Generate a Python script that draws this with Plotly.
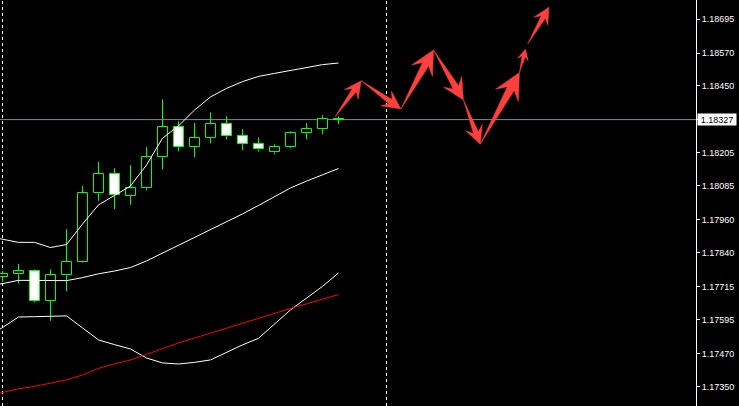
import plotly.graph_objects as go

# ---------------- data ----------------
bar_index = list(range(22))
open_ = [1.17752, 1.17761, 1.17772, 1.17665, 1.17757, 1.17805, 1.18057, 1.18127, 1.18048, 1.18076,
         1.18189, 1.18299, 1.18226, 1.18259, 1.18310, 1.18266, 1.18237, 1.18207, 1.18226, 1.18277,
         1.18292, 1.18328]
high = [1.17774, 1.17799, 1.17779, 1.17779, 1.17926, 1.18084, 1.18172, 1.18149, 1.18160, 1.18226,
        1.18401, 1.18321, 1.18314, 1.18354, 1.18339, 1.18292, 1.18262, 1.18237, 1.18284, 1.18314,
        1.18343, 1.18338]
low = [1.17734, 1.17728, 1.17660, 1.17591, 1.17699, 1.17803, 1.18030, 1.17999, 1.18016, 1.18068,
       1.18145, 1.18211, 1.18189, 1.18240, 1.18255, 1.18215, 1.18210, 1.18200, 1.18222, 1.18255,
       1.18273, 1.18310]
close = [1.17761, 1.17772, 1.17665, 1.17757, 1.17805, 1.18057, 1.18127, 1.18050, 1.18076, 1.18189,
         1.18299, 1.18226, 1.18259, 1.18310, 1.18266, 1.18237, 1.18218, 1.18226, 1.18277, 1.18292,
         1.18328, 1.18327]

ind_index = list(range(-1, 22))
bb_upper = [1.17901, 1.17890, 1.17878, 1.17878, 1.17859, 1.17870, 1.17945, 1.18015, 1.18048, 1.18084,
            1.18161, 1.18259, 1.18304, 1.18362, 1.18410, 1.18441, 1.18466, 1.18485, 1.18496, 1.18507,
            1.18518, 1.18528, 1.18534]
bb_middle = [1.17718, 1.17727, 1.17739, 1.17738, 1.17738, 1.17738, 1.17749, 1.17763, 1.17773, 1.17786,
             1.17810, 1.17839, 1.17865, 1.17894, 1.17925, 1.17952, 1.17982, 1.18013, 1.18046, 1.18077,
             1.18102, 1.18126, 1.18148]
bb_lower = [1.17528, 1.17568, 1.17605, 1.17606, 1.17608, 1.17609, 1.17565, 1.17521, 1.17504, 1.17488,
            1.17455, 1.17437, 1.17433, 1.17439, 1.17448, 1.17477, 1.17503, 1.17527, 1.17578, 1.17631,
            1.17674, 1.17717, 1.17766]
ma_red = [1.17316, 1.17330, 1.17342, 1.17351, 1.17362, 1.17375, 1.17393, 1.17417, 1.17433, 1.17448,
          1.17468, 1.17490, 1.17510, 1.17528, 1.17546, 1.17565, 1.17583, 1.17601, 1.17620, 1.17636,
          1.17653, 1.17671, 1.17687]

bid_price = 1.18327
separator_index = [0, 24]
price_ticks = [1.18695, 1.18570, 1.18450, 1.18327, 1.18205, 1.18085,
               1.17960, 1.17840, 1.17715, 1.17595, 1.17470, 1.17350]

arrow_from_x = [20.79, 22.42, 24.90, 26.94, 28.81, 29.86, 32.31, 32.83]
arrow_from_y = [1.18338, 1.18469, 1.18366, 1.18582, 1.18399, 1.18237, 1.18499, 1.18604]
arrow_to_x = [22.42, 24.90, 26.94, 28.81, 29.86, 32.31, 32.69, 34.15]
arrow_to_y = [1.18469, 1.18366, 1.18582, 1.18399, 1.18237, 1.18499, 1.18585, 1.18738]

# ---------------- layout constants ----------------
FIG_W, FIG_H = 739, 406
M_R = 43
PLOT_W, PLOT_H = FIG_W - M_R, FIG_H
BAR_PX = 16.0
X0 = -2.5 / BAR_PX
X1 = X0 + PLOT_W / BAR_PX
Y1 = 1.187645
Y0 = 1.172794

LIME = "#00ff00"
ARROW_RED = "#fc3f3f"


def to_px(x, y):
    return ((x - X0) / (X1 - X0) * PLOT_W, (Y1 - y) / (Y1 - Y0) * PLOT_H)


def to_data(px, py):
    return (X0 + px / PLOT_W * (X1 - X0), Y1 - py / PLOT_H * (Y1 - Y0))


def arrow_polygon(xa, ya, xb, yb):
    ax, ay = to_px(xa, ya)
    bx, by = to_px(xb, yb)
    dx, dy = bx - ax, by - ay
    L = (dx * dx + dy * dy) ** 0.5
    ux, uy = dx / L, dy / L
    nx, ny = -uy, ux
    H = max(9.0, min(0.3 * L + 3.5, 26.0))
    W = 0.5 * H
    ws = 0.3 * W
    def P(u, v):
        return to_data(ax + ux * u + nx * v, ay + uy * u + ny * v)
    pts = [P(0, 0), P(L - 0.7 * H, -ws), P(L - H, -W), P(L, 0),
           P(L - H, W), P(L - 0.7 * H, ws), P(0, 0)]
    return pts


fig = go.Figure()

# wicks (drawn outside the bodies)
wx, wy = [], []
for i, o, h, l, c in zip(bar_index, open_, high, low, close):
    top, bot = max(o, c), min(o, c)
    wx += [i, i, None, i, i, None]
    wy += [h, top, None, bot, l, None]
fig.add_trace(go.Scatter(x=wx, y=wy, mode="lines", line=dict(color=LIME, width=1),
                         hoverinfo="skip", showlegend=False))

# bodies
base = [min(o, c) for o, c in zip(open_, close)]
height = [max(abs(c - o), 0.00001) for o, c in zip(open_, close)]
fills = ["black" if c >= o else "white" for o, c in zip(open_, close)]
fig.add_trace(go.Bar(x=bar_index, y=height, base=base, width=0.625,
                     marker=dict(color=fills, line=dict(color=LIME, width=1)),
                     hoverinfo="skip", showlegend=False))

# indicators
for vals, col in [(bb_upper, "white"), (bb_middle, "white"), (bb_lower, "white"), (ma_red, "#ff0000")]:
    fig.add_trace(go.Scatter(x=ind_index, y=vals, mode="lines", line=dict(color=col, width=1),
                             hoverinfo="skip", showlegend=False))

# arrows
axs, ays = [], []
for xa, ya, xb, yb in zip(arrow_from_x, arrow_from_y, arrow_to_x, arrow_to_y):
    for px, py in arrow_polygon(xa, ya, xb, yb):
        axs.append(px)
        ays.append(py)
    axs.append(None)
    ays.append(None)
fig.add_trace(go.Scatter(x=axs, y=ays, mode="lines", fill="toself", fillcolor=ARROW_RED,
                         line=dict(color=ARROW_RED, width=0.5), hoverinfo="skip", showlegend=False))

shapes = []
for s in separator_index:
    shapes.append(dict(type="line", xref="x", yref="paper", x0=s, x1=s, y0=0, y1=1,
                       line=dict(color="white", width=1, dash="3px,3px"), layer="below"))
shapes.append(dict(type="line", xref="paper", yref="y", x0=0, x1=1, y0=bid_price, y1=bid_price,
                   line=dict(color="#7d8a96", width=1), layer="below"))

fig.update_layout(
    width=FIG_W, height=FIG_H,
    margin=dict(l=0, r=M_R, t=0, b=0, pad=0),
    paper_bgcolor="black", plot_bgcolor="black",
    showlegend=False, bargap=0, barmode="overlay",
    shapes=shapes,
    xaxis=dict(range=[X0, X1], visible=False, fixedrange=True),
    yaxis=dict(range=[Y0, Y1], side="right", showgrid=False, zeroline=False,
               showline=True, linecolor="white", linewidth=1,
               ticks="outside", ticklen=3, tickcolor="white", tickwidth=1,
               tickvals=price_ticks, ticktext=["%.5f" % v for v in price_ticks],
               tickfont=dict(family="Liberation Sans", size=9, color="white"),
               fixedrange=True),
    annotations=[dict(xref="paper", yref="y", x=1, y=bid_price, xanchor="left", yanchor="middle",
                      xshift=1, text="%.5f" % bid_price, showarrow=False,
                      font=dict(family="Liberation Sans", size=9, color="black"),
                      bgcolor="white", borderpad=1, width=36, height=9)],
)

fig.write_html("out.html", config={"displayModeBar": False},
               post_script="document.body.style.margin='0';document.body.style.background='black';")
